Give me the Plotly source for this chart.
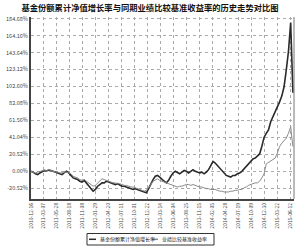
import pandas as pd
import plotly.graph_objects as go

# ---- data ----
start_date = "2010-12-16"
step_days = 14

fund_growth = [
    0, -1, -3, -4, -2, 0, 1, 0.5, 1.5, 1,
    0, -1, -2, -3, -4, -1.5, 0, -2, -5, -8,
    -9, -10, -12, -13, -11, -14, -17, -21, -24, -22,
    -18, -16, -14, -14, -12, -13, -14, -15, -16, -15,
    -17, -18, -18, -19, -20, -21, -22, -21, -22, -23,
    -24, -25, -26, -21, -15, -10, -6, -5, -7, -10,
    -12, -14, -11, -6, -2, 0, -2, -3, -1, 1,
    0, -2, 0, 2, 0, -1, -2, -1, -3, -1,
    2, 7, 12, 10, 7, 4, 1, -2, -5, -6,
    -7, -5, -5, -3, -2, 0, 3, 6, 9, 12,
    15, 16, 18, 21, 30, 41, 46, 50, 60, 66,
    70, 76, 84, 91, 102, 122, 145, 180, 95,
]

benchmark = [
    0, -1, -2, -1, 0, 1, 1.5, 1, 2, 1,
    0, -1, -1, -2, -2, -1, -1, -2, -3, -6,
    -7, -8, -10, -11, -10, -12, -15, -17, -18, -17,
    -14, -11, -9, -10, -11, -12, -13, -14, -14, -15,
    -15, -16, -17, -17, -18, -19, -19, -20, -21, -22,
    -23, -24, -23, -20, -16, -12, -10, -9, -11, -12,
    -13, -14, -15, -16, -17, -18, -19, -18, -18, -17,
    -16, -16, -17, -16, -17, -18, -19, -19, -20, -21,
    -21, -22, -22, -22, -23, -24, -24, -25, -25, -25,
    -24, -24, -23, -23, -22, -22, -20, -19, -17, -16,
    -15, -14, -14, -12, -8, -3, 9, 11, 12, 14,
    16, 22, 30, 34, 37, 40, 46, 54, 30,
]

x_tick_labels = [
    "2010-12-16", "2011-03-07", "2011-05-28", "2011-08-18", "2011-11-08",
    "2012-01-29", "2012-04-20", "2012-07-11", "2012-10-01", "2012-12-22",
    "2013-03-14", "2013-06-04", "2013-08-25", "2013-11-15", "2014-02-05",
    "2014-04-28", "2014-07-19", "2014-10-09", "2014-12-30", "2015-03-22",
    "2015-06-12",
]

y_ticks = [-20.52, 0.00, 20.52, 41.04, 61.56, 82.08, 102.60, 123.12, 143.64, 164.16, 184.68]

series_names = ["基金份额累计净值增长率", "业绩比较基准收益率"]
series_colors = ["#2a2a2a", "#8a8a8a"]
title_text = "基金份额累计净值增长率与同期业绩比较基准收益率的历史走势对比图"

# ---- figure ----
dates = pd.date_range(start_date, periods=len(fund_growth), freq=f"{step_days}D")

FONT = "Noto Sans CJK SC"
W, H = 300, 246
ML, MR, MT, MB = 31, 6, 17, 47
PW, PH = W - ML - MR, H - MT - MB


def px_x(px):
    return (px - ML) / PW


def px_y(py):
    return (H - MB - py) / PH


fig = go.Figure()
fig.add_trace(go.Scatter(
    x=dates, y=fund_growth, mode="lines", name=series_names[0],
    line=dict(color=series_colors[0], width=1.6), showlegend=False,
))
fig.add_trace(go.Scatter(
    x=dates, y=benchmark, mode="lines", name=series_names[1],
    line=dict(color=series_colors[1], width=1), showlegend=False,
))

fig.update_layout(
    width=W, height=H,
    margin=dict(l=ML, r=MR, t=MT, b=MB, autoexpand=False),
    paper_bgcolor="white", plot_bgcolor="white",
    font=dict(family=FONT, size=6, color="#333"),
    title=dict(
        text="<b>" + title_text + "</b>",
        x=0.5, xanchor="center", xref="container",
        y=1 - 8.5 / H, yanchor="middle", yref="container",
        font=dict(family=FONT, size=8.3, color="#111"),
    ),
    showlegend=False,
)

fig.update_xaxes(
    type="date",
    range=["2010-12-16", "2015-07-02"],
    tickvals=pd.to_datetime(x_tick_labels),
    ticktext=x_tick_labels,
    tickangle=-90,
    tickfont=dict(size=5, color="#444"),
    showgrid=True, gridcolor="#aaaaaa", griddash="dot", gridwidth=1,
    showline=True, linecolor="#444", linewidth=2,
    ticks="", zeroline=False, automargin=False,
)
fig.update_yaxes(
    range=[-33.5, 186.7],
    tickvals=y_ticks,
    ticktext=[f"{v:.2f}%" for v in y_ticks],
    tickfont=dict(size=5.5, color="#444"),
    showgrid=True, gridcolor="#aaaaaa", griddash="dot", gridwidth=1,
    showline=True, linecolor="#444", linewidth=2,
    ticks="", zeroline=False, automargin=False,
)

# right border of the plotting frame
fig.add_shape(type="line", xref="paper", yref="paper", x0=1, x1=1, y0=0, y1=1,
              line=dict(color="#777", width=1))

# compact boxed legend below the axis labels
fig.add_shape(type="rect", xref="paper", yref="paper",
              x0=px_x(87), x1=px_x(214), y0=px_y(245), y1=px_y(233.5),
              line=dict(color="#333", width=1), fillcolor="white", layer="above")
legend_items = [(89, 96, 97.5), (152, 158, 159.5)]
for (lx0, lx1, tx), name, color in zip(legend_items, series_names, series_colors):
    fig.add_shape(type="line", xref="paper", yref="paper",
                  x0=px_x(lx0), x1=px_x(lx1), y0=px_y(239.3), y1=px_y(239.3),
                  line=dict(color=color, width=1.5), layer="above")
    fig.add_annotation(x=px_x(tx), y=px_y(239.3), xref="paper", yref="paper",
                       text=name, showarrow=False, xanchor="left", yanchor="middle",
                       font=dict(family=FONT, size=5, color="#222"))

fig.write_html("out.html")
